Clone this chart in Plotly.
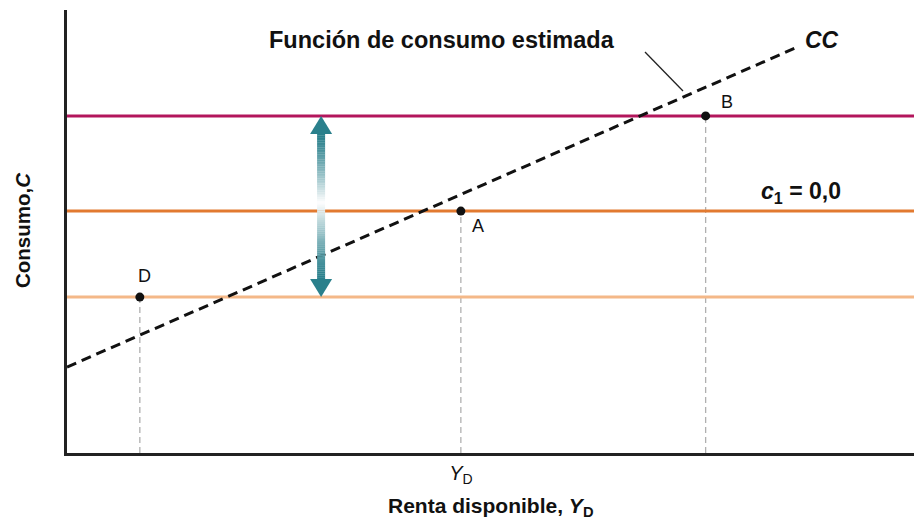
import plotly.graph_objects as go
import numpy as np

# ---- data (abstract units: x 0-100, y 0-100) ----
level_names = ["alto", "medio", "bajo"]
level_values = [76.1, 54.6, 35.2]          # horizontal consumption levels
level_colors = ["#b3165c", "#e27a30", "#f4b888"]

point_labels = ["D", "A", "B"]
point_x = [8.6, 46.5, 75.4]
point_y = [35.2, 54.6, 76.1]

cc_x = [0.0, 86.2]                          # estimated consumption function
cc_y = [19.4, 91.6]

arrow_x = 30.0
arrow_top = 76.1
arrow_bottom = 35.2
arrow_white = 56.5

tick_x = [46.5]
tick_text = ["<i>Y</i><sub>D</sub>"]

# ---- geometry helpers ----
W, H = 914, 521
ml, mr, mt, mb = 67, 0, 10, 68
pw, ph = W - ml - mr, H - mt - mb
px_x = 100.0 / pw   # data units per pixel in x
px_y = 100.0 / ph   # data units per pixel in y

FONT = "Liberation Sans, Arial, Helvetica, sans-serif"

fig = go.Figure()

# vertical grey dashed drop lines
for xv, yv in zip(point_x, point_y):
    fig.add_trace(go.Scatter(x=[xv, xv], y=[0, yv], mode="lines",
                             line=dict(color="#b0b0b0", width=1.3, dash="6px,4px"),
                             hoverinfo="skip", showlegend=False))

# horizontal levels
for yv, col in zip(level_values, level_colors):
    fig.add_trace(go.Scatter(x=[0, 100], y=[yv, yv], mode="lines",
                             line=dict(color=col, width=3),
                             hoverinfo="skip", showlegend=False))

# gradient double arrow shaft
teal = np.array([42, 128, 140])
white = np.array([255, 255, 255])
head_h = 18 * px_y
head_w = 11 * px_x
shaft_w = 4 * px_x
top_start = arrow_top - head_h
bot_start = arrow_bottom + head_h
n = 40
shapes = []
def col_at(t):
    c = teal + (white - teal) * t
    return "rgb(%d,%d,%d)" % tuple(c.astype(int))
edges_top = np.linspace(top_start, arrow_white, n + 1)
for i in range(n):
    t = (i + 0.5) / n
    shapes.append(dict(type="rect", xref="x", yref="y",
                       x0=arrow_x - shaft_w, x1=arrow_x + shaft_w,
                       y0=edges_top[i + 1], y1=edges_top[i] + 0.05,
                       fillcolor=col_at(t ** 1.3), line=dict(width=0), layer="above"))
edges_bot = np.linspace(arrow_white, bot_start, n + 1)
for i in range(n):
    t = 1 - (i + 0.5) / n
    shapes.append(dict(type="rect", xref="x", yref="y",
                       x0=arrow_x - shaft_w, x1=arrow_x + shaft_w,
                       y0=edges_bot[i + 1] - 0.05, y1=edges_bot[i],
                       fillcolor=col_at(t ** 1.3), line=dict(width=0), layer="above"))
# heads
shapes.append(dict(type="path", xref="x", yref="y",
                   path="M %f %f L %f %f L %f %f Z" % (arrow_x, arrow_top,
                                                     arrow_x - head_w, top_start,
                                                     arrow_x + head_w, top_start),
                   fillcolor="rgb(42,128,140)", line=dict(width=0), layer="above"))
shapes.append(dict(type="path", xref="x", yref="y",
                   path="M %f %f L %f %f L %f %f Z" % (arrow_x, arrow_bottom,
                                                     arrow_x - head_w, bot_start,
                                                     arrow_x + head_w, bot_start),
                   fillcolor="rgb(42,128,140)", line=dict(width=0), layer="above"))

# leader line from title to CC line
shapes.append(dict(type="line", xref="x", yref="y",
                   x0=(645 - ml) * px_x, y0=(H - mb - 52) * px_y,
                   x1=(683 - ml) * px_x, y1=(H - mb - 91) * px_y,
                   line=dict(color="#222", width=1.3)))

# consumption function dashed
fig.add_trace(go.Scatter(x=cc_x, y=cc_y, mode="lines",
                         line=dict(color="#111", width=3, dash="10px,6px"),
                         hoverinfo="skip", showlegend=False))

# points
fig.add_trace(go.Scatter(x=point_x, y=point_y, mode="markers",
                         marker=dict(color="#111", size=9),
                         hoverinfo="skip", showlegend=False, cliponaxis=False))

ann = []
offs = [(5, 21, "center"), (9, -15, "left"), (13, 14, "left")]
for lab, xv, yv, (dx, dy, xa) in zip(point_labels, point_x, point_y, offs):
    ann.append(dict(x=xv, y=yv, text=lab, showarrow=False, xshift=dx, yshift=dy,
                    xanchor=xa, font=dict(size=18, color="#111", family=FONT)))

ann.append(dict(x=(442 - ml) * px_x, y=(H - mb - 40) * px_y, text="<b>Función de consumo estimada</b>",
                showarrow=False, font=dict(size=23.5, color="#111", family=FONT)))
ann.append(dict(x=(822 - ml) * px_x, y=(H - mb - 40) * px_y, text="<b><i>CC</i></b>",
                showarrow=False, font=dict(size=23, color="#111", family=FONT)))
ann.append(dict(x=(801 - ml) * px_x, y=(H - mb - 192) * px_y,
                text="<b><i>c</i><sub>1</sub> = 0,0</b>",
                showarrow=False, font=dict(size=23, color="#111", family=FONT)))
ann.append(dict(x=0, xref="paper", y=(H - mb - 230) * px_y, xshift=-45,
                xanchor="center", yanchor="middle",
                text="<b>Consumo,<i>C</i></b>", textangle=-90, showarrow=False,
                font=dict(size=20.5, color="#111", family=FONT)))
ann.append(dict(x=(490 - ml) * px_x, y=0, yshift=-54, yanchor="middle",
                text="<b>Renta disponible, <i>Y</i><sub>D</sub></b>", showarrow=False,
                font=dict(size=21, color="#111", family=FONT)))

fig.update_layout(
    width=W, height=H,
    margin=dict(l=ml, r=mr, t=mt, b=mb),
    paper_bgcolor="white", plot_bgcolor="white",
    shapes=shapes, annotations=ann,
    xaxis=dict(range=[0, 100], showgrid=False, zeroline=False, showline=True,
               linecolor="#222", linewidth=2.5, tickvals=tick_x, ticktext=tick_text,
               ticks="", tickfont=dict(size=20, color="#111", family=FONT), fixedrange=True),
    yaxis=dict(range=[0, 100], showgrid=False, zeroline=False, showline=True,
               linecolor="#222", linewidth=2.5, showticklabels=False, ticks="",
               fixedrange=True),
)

fig.write_html("out.html", config={"displayModeBar": False},
               post_script="document.body.style.margin='0';document.body.style.padding='0';")
